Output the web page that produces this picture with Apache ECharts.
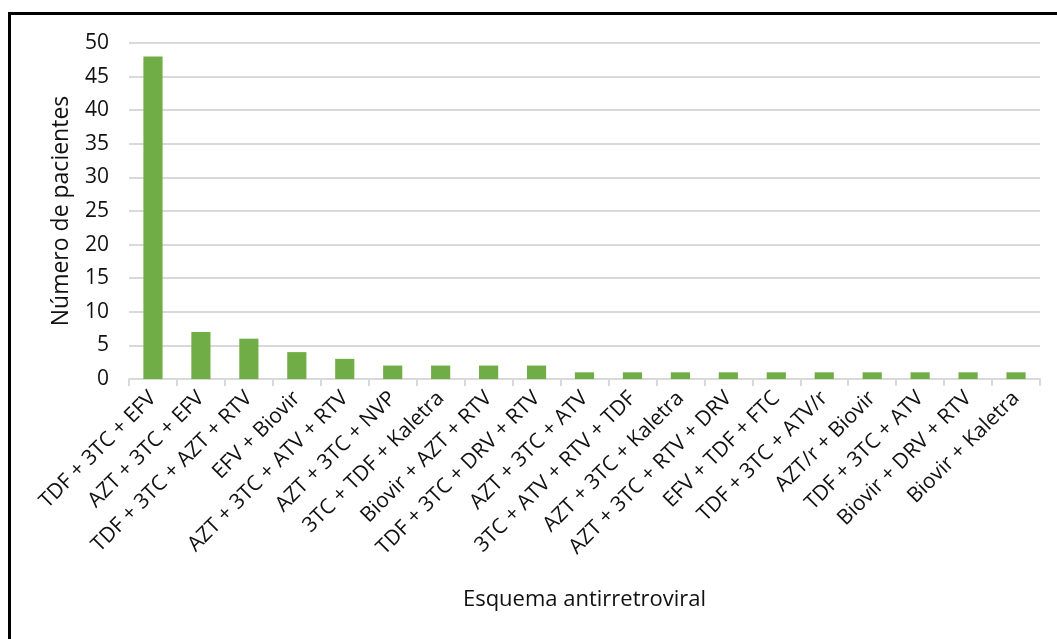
<!DOCTYPE html>
<html>
<head>
<meta charset="utf-8">
<script src="https://cdn.jsdelivr.net/npm/echarts@6/dist/echarts.min.js"></script>
<style>
  html, body { margin: 0; padding: 0; background: #fff; }
  #frame {
    position: absolute; left: 8px; top: 12px; width: 1049px; height: 627px;
    border-top: 3px solid #000; border-left: 3px solid #000; box-sizing: border-box;
  }
  #chart { position: absolute; left: 0; top: 0; width: 1057px; height: 639px; }
</style>
</head>
<body>
<div id="frame"></div>
<div id="chart"></div>
<script>
// esquemas antirretrovirales
var categories = [
  'TDF + 3TC + EFV', 'AZT + 3TC + EFV', 'TDF + 3TC + AZT + RTV', 'EFV + Biovir',
  'AZT + 3TC + ATV + RTV', 'AZT + 3TC + NVP', '3TC + TDF + Kaletra', 'Biovir + AZT + RTV',
  'TDF + 3TC + DRV + RTV', 'AZT + 3TC + ATV', '3TC + ATV + RTV + TDF', 'AZT + 3TC + Kaletra',
  'AZT + 3TC + RTV + DRV', 'EFV + TDF + FTC', 'TDF + 3TC + ATV/r', 'AZT/r + Biovir',
  'TDF + 3TC + ATV', 'Biovir + DRV + RTV', 'Biovir + Kaletra'
];
var pacientes = [48, 7, 6, 4, 3, 2, 2, 2, 2, 1, 1, 1, 1, 1, 1, 1, 1, 1, 1];
var yTicks = [0, 5, 10, 15, 20, 25, 30, 35, 40, 45, 50];

var font = '"Open Sans", Lato, sans-serif';
var chart = echarts.init(document.getElementById('chart'));
chart.setOption({
  animation: false,
  grid: { left: 129, right: 17, top: 43, bottom: 260 },
  xAxis: {
    type: 'category',
    data: categories,
    name: 'Esquema antirretroviral',
    nameLocation: 'middle',
    nameGap: 210,
    nameTextStyle: { fontFamily: font, fontSize: 22, color: '#111' },
    axisLine: { lineStyle: { color: '#d9d9d9', width: 2 } },
    axisTick: { show: true, length: 7, lineStyle: { color: '#d9d9d9', width: 2 } },
    axisLabel: {
      interval: 0, rotate: 45, margin: 16,
      fontFamily: font, fontSize: 21, color: '#111'
    }
  },
  yAxis: {
    type: 'value',
    min: yTicks[0],
    max: yTicks[yTicks.length - 1],
    interval: 5,
    name: 'Número de pacientes',
    nameLocation: 'middle',
    nameGap: 56,
    nameTextStyle: { fontFamily: font, fontSize: 23, color: '#111' },
    axisLine: { show: false },
    axisTick: { show: false },
    splitLine: { lineStyle: { color: '#d9d9d9', width: 2 } },
    axisLabel: { margin: 20, fontFamily: font, fontSize: 21, color: '#111' }
  },
  series: [{
    type: 'bar',
    data: pacientes,
    barWidth: '40%',
    itemStyle: { color: '#70ad47' }
  }]
});
</script>
</body>
</html>
